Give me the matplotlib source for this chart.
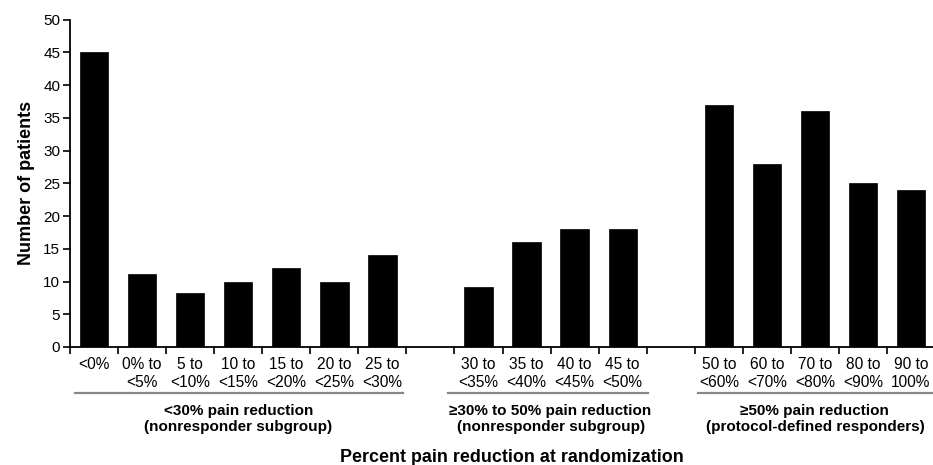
import matplotlib
matplotlib.use("Agg")
import matplotlib.pyplot as plt
from matplotlib.transforms import blended_transform_factory

plt.rcParams['font.family'] = ['Liberation Sans', 'DejaVu Sans']

categories = ["<0%", "0% to\n<5%", "5 to\n<10%", "10 to\n<15%", "15 to\n<20%", "20 to\n<25%", "25 to\n<30%",
              "30 to\n<35%", "35 to\n<40%", "40 to\n<45%", "45 to\n<50%",
              "50 to\n<60%", "60 to\n<70%", "70 to\n<80%", "80 to\n<90%", "90 to\n100%"]
values = [45, 11.2, 8.2, 10, 12, 10, 14,
          9.2, 16, 18, 18,
          37, 28, 36, 25, 24]
slots = [0, 1, 2, 3, 4, 5, 6, 8, 9, 10, 11, 13, 14, 15, 16, 17]
group_labels = ["<30% pain reduction\n(nonresponder subgroup)",
                "\u226530% to 50% pain reduction\n(nonresponder subgroup)",
                "\u226550% pain reduction\n(protocol-defined responders)"]
group_spans = [(0.1, 6.93), (7.87, 12.03), (13.07, 17.94)]
group_centers = [3.5, 10.0, 15.5]

W, H = 933, 465
fig = plt.figure(figsize=(W / 100, H / 100), dpi=100)
ax = fig.add_axes([70 / W, 1 - 347 / H, (933 - 70) / W, (347 - 19.5) / H])

xs = [s + 0.5 for s in slots]
ax.bar(xs, values, width=0.59, color='black', edgecolor='black', linewidth=0.5, zorder=3)

ax.set_xlim(0, 863 / 48.06)
ax.set_ylim(0, 50)
ax.set_yticks(range(0, 51, 5))
ax.set_xticks(range(0, 18))
ax.set_xticklabels([])
ax.set_xticks(xs, minor=True)
ax.set_xticklabels(categories, minor=True, fontsize=11.2, linespacing=1.3)
ax.tick_params(axis='x', which='major', length=5, width=1.2, direction='out')
ax.tick_params(axis='x', which='minor', length=0, pad=7)
ax.tick_params(axis='y', length=5, width=1.2, labelsize=11, pad=2)

for s in ['top', 'right']:
    ax.spines[s].set_visible(False)
for s in ['left', 'bottom']:
    ax.spines[s].set_linewidth(1.3)

ax.set_ylabel("Number of patients", fontsize=13, fontweight='bold', labelpad=6)

tr = blended_transform_factory(ax.transData, fig.transFigure)
for (x0, x1), c, lab in zip(group_spans, group_centers, group_labels):
    ax.plot([x0, x1], [1 - 393 / H, 1 - 393 / H], transform=tr, color='#888888', lw=1.6, clip_on=False)
    fig.text(c, 1 - 419 / H, lab, transform=tr, ha='center', va='center', fontsize=11,
             fontweight='bold', linespacing=1.25)

fig.text(512 / W, 1 - 457 / H, "Percent pain reduction at randomization", ha='center', va='center',
         fontsize=12.9, fontweight='bold')

fig.savefig("out.png", dpi=100)
